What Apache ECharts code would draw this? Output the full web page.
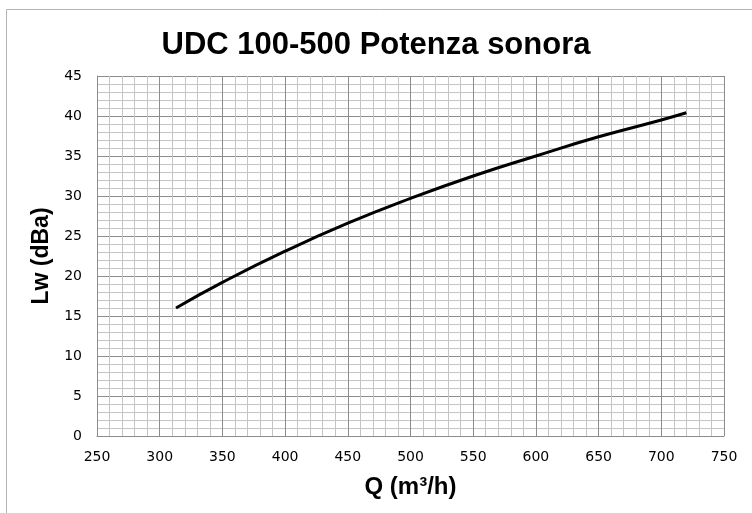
<!DOCTYPE html>
<html>
<head>
<meta charset="utf-8">
<script src="https://cdn.jsdelivr.net/npm/echarts@6/dist/echarts.min.js"></script>
<style>
  html, body { margin: 0; padding: 0; background: #fff; }
  #chart { width: 752px; height: 513px; }
</style>
</head>
<body>
<div id="chart"></div>
<script>
// Q (m3/h)
const flow = [313, 350, 400, 450, 500, 550, 600, 650, 700, 720];
// Lw (dBa)
const soundPower = [16.0, 19.2, 23.1, 26.6, 29.7, 32.5, 35.0, 37.4, 39.5, 40.4];

const data = flow.map((q, i) => [q, soundPower[i]]);

const myChart = echarts.init(document.getElementById("chart"));
myChart.setOption({
  animation: false,
  title: {
    text: "UDC 100-500 Potenza sonora",
    left: "center",
    top: 25,
    textStyle: {
      fontFamily: "Liberation Sans",
      fontWeight: "bold",
      fontSize: 31,
      color: "#000"
    }
  },
  graphic: [
    {
      type: "rect",
      shape: { x: 6.5, y: 9.5, width: 800, height: 600 },
      style: { fill: "none", stroke: "#b4b4b4", lineWidth: 1 },
      silent: true
    }
  ],
  grid: {
    left: 97,
    right: 28,
    top: 76,
    bottom: 77
  },
  xAxis: {
    type: "value",
    min: 250,
    max: 750,
    interval: 50,
    name: "Q (m³/h)",
    nameLocation: "middle",
    nameGap: 39,
    nameTextStyle: {
      fontFamily: "Liberation Sans",
      fontWeight: "bold",
      fontSize: 24,
      color: "#000"
    },
    axisLine: { lineStyle: { color: "#8c8c8c", width: 1 } },
    axisTick: { show: false },
    axisLabel: {
      margin: 14,
      fontFamily: "DejaVu Sans",
      fontSize: 14,
      color: "#000"
    },
    splitLine: { show: true, lineStyle: { color: "#8c8c8c", width: 1 } },
    minorTick: { show: false, splitNumber: 5 },
    minorSplitLine: { show: true, lineStyle: { color: "#c4c4c4", width: 1 } }
  },
  yAxis: {
    type: "value",
    min: 0,
    max: 45,
    interval: 5,
    name: "Lw (dBa)",
    nameLocation: "middle",
    nameGap: 42,
    nameTextStyle: {
      fontFamily: "Liberation Sans",
      fontWeight: "bold",
      fontSize: 23,
      color: "#000"
    },
    axisLine: { show: true, lineStyle: { color: "#8c8c8c", width: 1 } },
    axisTick: { show: false },
    axisLabel: {
      margin: 15,
      fontFamily: "DejaVu Sans",
      fontSize: 14,
      color: "#000"
    },
    splitLine: { show: true, lineStyle: { color: "#8c8c8c", width: 1 } },
    minorTick: { show: false, splitNumber: 5 },
    minorSplitLine: { show: true, lineStyle: { color: "#c4c4c4", width: 1 } }
  },
  series: [
    {
      type: "line",
      data,
      smooth: true,
      showSymbol: false,
      lineStyle: { color: "#000", width: 3 }
    }
  ]
});
</script>
</body>
</html>
